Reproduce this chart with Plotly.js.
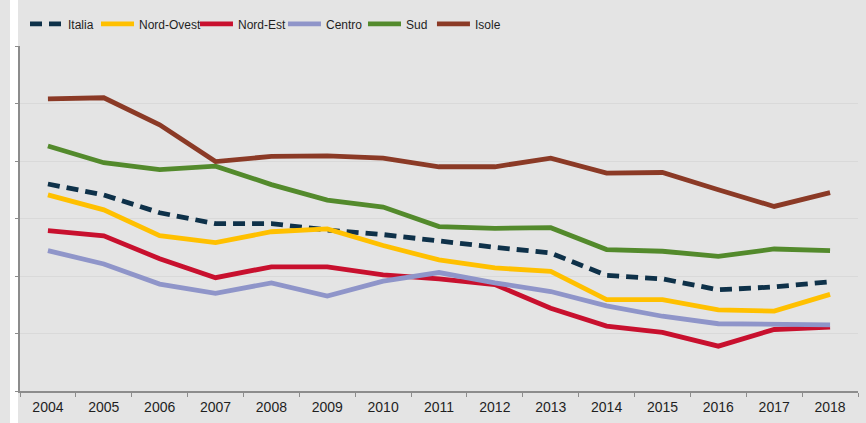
<!DOCTYPE html>
<html>
<head>
<meta charset="utf-8">
<script src="https://cdn.plot.ly/plotly-3.0.1.min.js"></script>
<style>
  html, body { margin: 0; padding: 0; background: #e4e4e4; }
  #chart { width: 866px; height: 423px; }
</style>
</head>
<body>
<div id="chart"></div>
<script>
const years = ["2004", "2005", "2006", "2007", "2008", "2009", "2010", "2011",
  "2012", "2013", "2014", "2015", "2016", "2017", "2018"];

const italia = [3.60, 3.41, 3.10, 2.91, 2.91, 2.80, 2.72, 2.60, 2.50, 2.40, 2.01, 1.95, 1.76, 1.81, 1.90];
const nordOvest = [3.41, 3.15, 2.70, 2.58, 2.77, 2.82, 2.53, 2.28, 2.14, 2.08, 1.59, 1.59, 1.41, 1.39, 1.68];
const nordEst = [2.79, 2.70, 2.30, 1.97, 2.16, 2.16, 2.02, 1.95, 1.85, 1.44, 1.13, 1.02, 0.78, 1.07, 1.11];
const centro = [2.44, 2.21, 1.86, 1.70, 1.88, 1.65, 1.91, 2.06, 1.88, 1.73, 1.48, 1.30, 1.17, 1.15, 1.15];
const sud = [4.26, 3.97, 3.85, 3.91, 3.59, 3.32, 3.20, 2.86, 2.83, 2.84, 2.46, 2.43, 2.34, 2.47, 2.44];
const isole = [5.08, 5.10, 4.63, 3.99, 4.08, 4.09, 4.05, 3.90, 3.90, 4.05, 3.79, 3.80, 3.50, 3.21, 3.45];

const series = [
  { name: "Italia", y: italia, color: "#0e3149", dash: "12px,7px" },
  { name: "Nord-Ovest", y: nordOvest, color: "#ffc000" },
  { name: "Nord-Est", y: nordEst, color: "#c8102e" },
  { name: "Centro", y: centro, color: "#8f95c9" },
  { name: "Sud", y: sud, color: "#538a2c" },
  { name: "Isole", y: isole, color: "#8b3a26" },
];

// each entry gets its own legend so the spacing can follow the original
const legendX = [0.006, 0.0907, 0.2088, 0.3138, 0.4093, 0.4916];
const legendKeys = ["legend", "legend2", "legend3", "legend4", "legend5", "legend6"];

const textFont = "Liberation Sans, Arial, sans-serif";

const traces = series.map((s, i) => ({
  x: years,
  y: s.y,
  type: "scatter",
  mode: "lines",
  name: s.name,
  legend: legendKeys[i],
  line: { color: s.color, width: 4.8, dash: s.dash || "solid" },
  hoverinfo: "skip",
}));

const layout = {
  width: 866,
  height: 423,
  margin: { t: 46, r: 8, b: 32, l: 20 },
  paper_bgcolor: "#e4e4e4",
  plot_bgcolor: "#e4e4e4",
  showlegend: true,
  xaxis: {
    type: "category",
    range: [-0.5, 14.5],
    showgrid: false,
    showline: true,
    linecolor: "#8c8c8c",
    linewidth: 2,
    ticks: "outside",
    tickson: "boundaries",
    ticklen: 4,
    tickcolor: "#8c8c8c",
    tickwidth: 1,
    ticklabelstandoff: 2,
    tickfont: { family: textFont, size: 14, color: "#1f1f1f" },
    fixedrange: true,
  },
  yaxis: {
    range: [0, 6],
    dtick: 1,
    showticklabels: false,
    showgrid: true,
    gridcolor: "#d9d9d9",
    gridwidth: 1,
    zeroline: false,
    showline: true,
    linecolor: "#8c8c8c",
    linewidth: 2,
    ticks: "outside",
    ticklen: 3,
    tickcolor: "#8c8c8c",
    fixedrange: true,
  },
  shapes: [
    {
      type: "rect",
      xref: "paper",
      yref: "paper",
      x0: -0.0119,
      x1: -0.0024,
      y0: -0.1,
      y1: 1.14,
      fillcolor: "#ffffff",
      line: { width: 0 },
      layer: "below",
    },
  ],
};

legendKeys.forEach((key, i) => {
  layout[key] = {
    orientation: "h",
    x: legendX[i],
    xanchor: "left",
    y: 1.064,
    yanchor: "middle",
    bgcolor: "rgba(0,0,0,0)",
    font: { family: textFont, size: 12, color: "#1f1f1f" },
    itemwidth: 33,
  };
});

Plotly.newPlot("chart", traces, layout, {
  displayModeBar: false,
  staticPlot: true,
});
</script>
</body>
</html>
